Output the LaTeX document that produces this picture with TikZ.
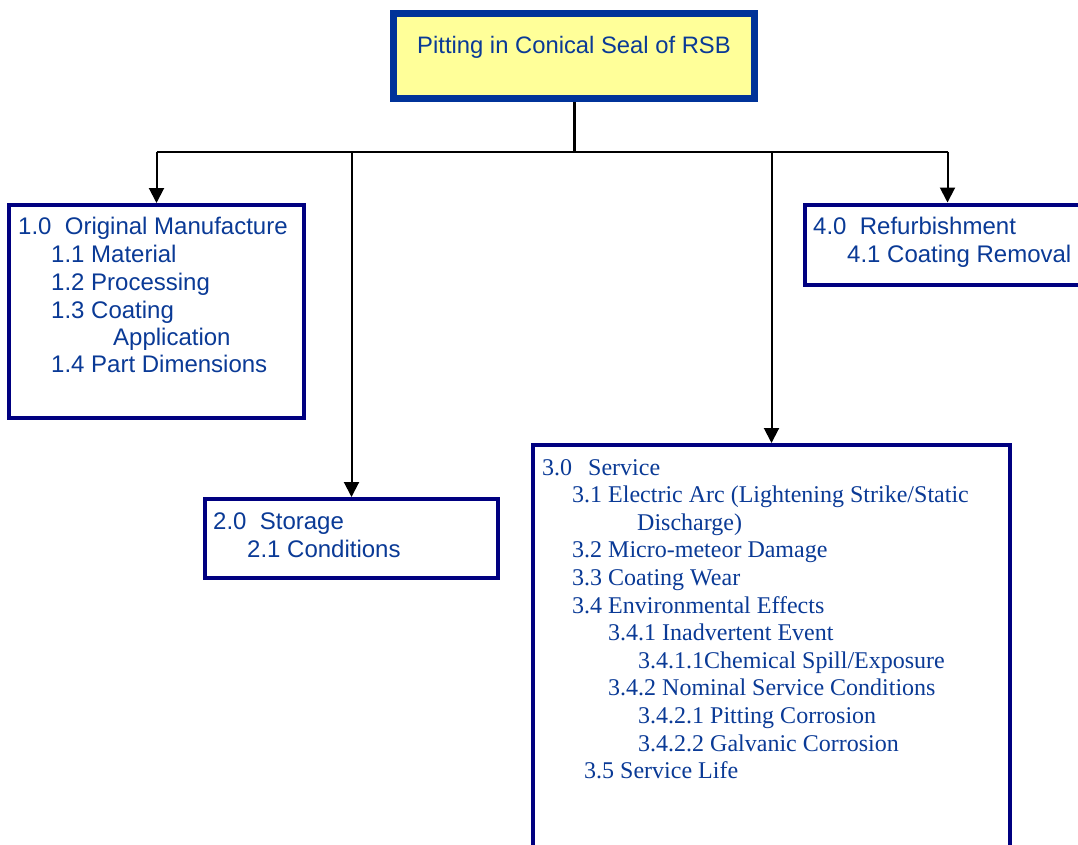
\documentclass[tikz,border=0pt]{standalone}
\usepackage{fontspec}
\usetikzlibrary{arrows.meta}
\newfontfamily\arialf{Liberation Sans}
\newfontfamily\timesf{Liberation Serif}
\definecolor{txtblue}{HTML}{0A3A96}
\definecolor{topblue}{HTML}{003399}
\definecolor{navyb}{HTML}{000080}
\definecolor{paleyel}{HTML}{FFFF99}
\tikzset{
  topbox/.style={draw=topblue, line width=7pt, fill=paleyel, inner sep=0pt, anchor=north west},
  itembox/.style={draw=navyb, line width=4pt, fill=white, inner sep=0pt, anchor=north west},
  sline/.style={anchor=base west, inner sep=0pt, text=txtblue, font=\arialf\fontsize{24}{28}\selectfont},
  rline/.style={anchor=base west, inner sep=0pt, text=txtblue, font=\timesf\fontsize{24}{28}\selectfont},
  trunk/.style={draw=black, line width=3pt},
  conn/.style={draw=black, line width=2pt},
  arr/.style={draw=black, line width=2pt, -{Triangle[length=15pt,width=15pt]}}
}
\begin{document}
\begin{tikzpicture}[x=1pt,y=-1pt]
\useasboundingbox (0,0) rectangle (1078,844);
% boxes
\node[topbox, minimum width=361pt, minimum height=85pt] (top) at (390,10) {};
\node[itembox, minimum width=295pt, minimum height=213pt] (b1) at (7,203) {};
\node[itembox, minimum width=293pt, minimum height=79pt] (b2) at (203,497) {};
\node[itembox, minimum width=477pt, minimum height=455pt] (b3) at (531,443) {};
\node[itembox, minimum width=285pt, minimum height=80pt] (b4) at (803,202.5) {};
% title
\node[anchor=base, inner sep=0pt, text=txtblue, font=\arialf\fontsize{23.8}{28}\selectfont] (title) at (574,53) {Pitting in Conical Seal of RSB};
% connectors
\coordinate (j) at (574,151.5);
\draw[trunk] (top.south) -- (top.south |- j);
\draw[conn] (b1.north |- j) -- (b4.north |- j);
\draw[arr] (b1.north |- j) -- (b1.north);
\draw[arr] (b2.north |- j) -- (b2.north);
\draw[arr] (b3.north |- j) -- (b3.north);
\draw[arr] (b4.north |- j) -- (b4.north);
% box 1 text
\node[sline] (t10) at (18,234) {1.0\ \ Original Manufacture};
\node[sline] (t11) at (51,262.5) {1.1 Material};
\node[sline] (t12) at (51,290) {1.2 Processing};
\node[sline] (t13) at (51,318) {1.3 Coating};
\node[sline] (t13b) at (113,345.5) {Application};
\node[sline] (t14) at (51,372.5) {1.4 Part Dimensions};
% box 2 text
\node[sline] (t20) at (213,529) {2.0\ \ Storage};
\node[sline] (t21) at (247,557) {2.1 Conditions};
% box 4 text
\node[sline] (t40) at (813,234) {4.0\ \ Refurbishment};
\node[sline] (t41) at (847,262) {4.1 Coating Removal};
% box 3 text
\node[rline] (t30) at (542,475) {3.0};
\node[rline] (t30b) at (588,475) {Service};
\node[rline] (t31) at (572,502.6) {3.1 Electric Arc (Lightening Strike/Static};
\node[rline] (t31b) at (637,530.2) {Discharge)};
\node[rline] (t32) at (572,557.8) {3.2 Micro-meteor Damage};
\node[rline] (t33) at (572,585.4) {3.3 Coating Wear};
\node[rline] (t34) at (572,613) {3.4 Environmental Effects};
\node[rline] (t341) at (608,640.6) {3.4.1 Inadvertent Event};
\node[rline] (t3411) at (638,668.2) {3.4.1.1Chemical Spill/Exposure};
\node[rline] (t342) at (608,695.8) {3.4.2 Nominal Service Conditions};
\node[rline] (t3421) at (638,723.4) {3.4.2.1 Pitting Corrosion};
\node[rline] (t3422) at (638,751) {3.4.2.2 Galvanic Corrosion};
\node[rline] (t35) at (584,778.6) {3.5 Service Life};
\end{tikzpicture}
\end{document}
